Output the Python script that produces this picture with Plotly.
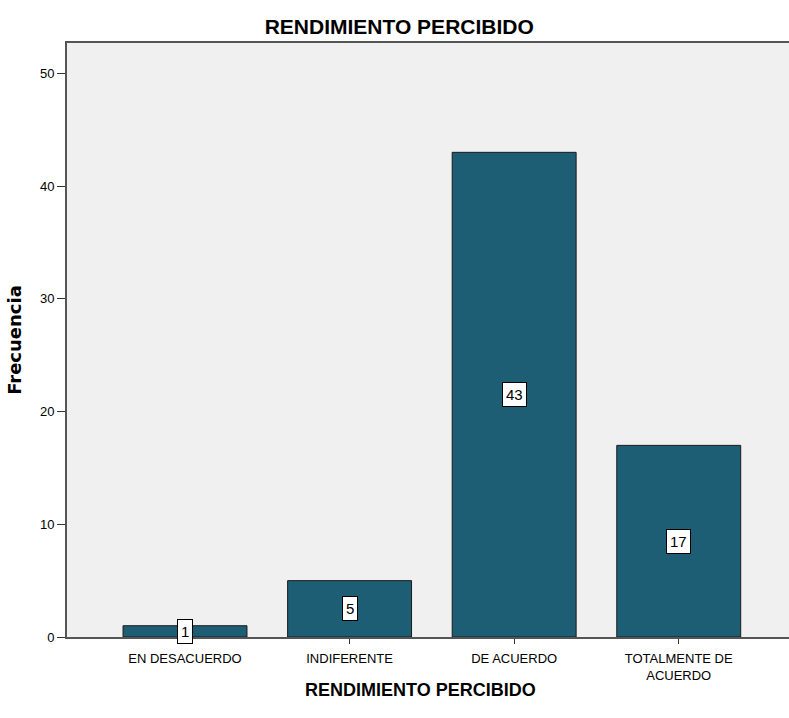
import plotly.graph_objects as go

categories = ["EN DESACUERDO", "INDIFERENTE", "DE ACUERDO", "TOTALMENTE DE<br>ACUERDO"]
values = [1, 5, 43, 17]
y_ticks = [0, 10, 20, 30, 40, 50]

font = "Liberation Sans, Arial, sans-serif"

fig = go.Figure()
fig.add_trace(go.Bar(
    x=list(range(len(categories))), y=values, width=0.753,
    marker=dict(color="#1d5e75", line=dict(color="#1a1a1a", width=1)),
    hoverinfo="skip",
))

for i, v in enumerate(values):
    fig.add_annotation(
        x=i, y=v / 2, text=str(v), showarrow=False,
        font=dict(family=font, size=15, color="black"),
        bgcolor="white", bordercolor="black", borderwidth=1, borderpad=3,
    )

# x-axis title as annotation (placed as in reference)
fig.add_annotation(
    xref="paper", yref="paper", x=0.489, y=-0.089, xanchor="center", yanchor="middle",
    text="<b>RENDIMIENTO PERCIBIDO</b>", showarrow=False,
    font=dict(family=font, size=18, color="black"),
)

fig.update_layout(
    width=789, height=718,
    margin=dict(l=67, r=0, t=43, b=81),
    paper_bgcolor="white", plot_bgcolor="#f0f0f0",
    showlegend=False,
    title=dict(text="<b>RENDIMIENTO PERCIBIDO</b>", x=0.506, xanchor="center",
               y=1 - 27 / 718, yanchor="middle",
               font=dict(family=font, size=21, color="black")),
    font=dict(family=font, color="black"),
)
fig.update_xaxes(
    range=[-0.717, 3.67], tickmode="array",
    tickvals=list(range(len(categories))), ticktext=categories,
    showgrid=False, zeroline=False, showline=True, linecolor="#555555", linewidth=2,
    mirror=True, ticks="outside", ticklen=5, tickcolor="#333333",
    ticklabelstandoff=3,
    tickfont=dict(family=font, size=13, color="black"),
)
fig.update_yaxes(
    range=[0, 52.7], tickmode="array", tickvals=y_ticks,
    showgrid=False, zeroline=False, showline=True, linecolor="#555555", linewidth=2,
    ticks="outside", ticklen=8, tickcolor="#333333",
    tickfont=dict(family=font, size=13, color="black"),
    title=dict(text="<b>Frecuencia</b>", standoff=14,
               font=dict(family="DejaVu Sans, sans-serif", size=18, color="black")),
)

fig.write_html("out.html")
